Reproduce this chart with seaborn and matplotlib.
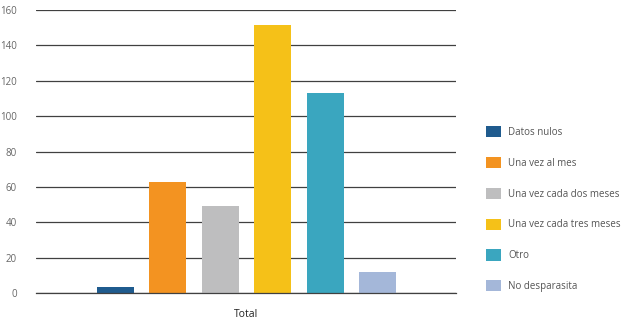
import pandas as pd
import seaborn as sns
import matplotlib.pyplot as plt

# datos
categorias = ["Datos nulos", "Una vez al mes", "Una vez cada dos meses",
              "Una vez cada tres meses", "Otro", "No desparasita"]
valores = [3.5, 63, 49.5, 151.5, 113, 12]
grupo = ["Total"] * len(categorias)
colores = ["#1f5b8e", "#f39321", "#bebebf", "#f5c118", "#3aa6bf", "#a4b7d9"]

df = pd.DataFrame({"grupo": grupo, "categoria": categorias, "valor": valores})

sns.set_theme(style="white")
plt.rcParams['font.family'] = ['Open Sans', 'DejaVu Sans']

fig = plt.figure(figsize=(6.27, 3.26), dpi=100)
ax = fig.add_axes([0.058, 0.10, 0.67, 0.87])

sns.barplot(data=df, x="grupo", y="valor", hue="categoria",
            palette=colores, saturation=1, width=0.75, gap=0.3,
            linewidth=0, ax=ax)

ax.set_ylim(0, 160)
ax.set_yticks(range(0, 161, 20))
ax.yaxis.grid(True, color="#404040", linewidth=0.9)
ax.set_axisbelow(True)
for s in ["top", "right", "left"]:
    ax.spines[s].set_visible(False)
ax.spines["bottom"].set_color("#404040")
ax.spines["bottom"].set_linewidth(0.9)
ax.tick_params(axis="y", labelsize=7, colors="#666666", length=0, pad=14)
ax.tick_params(axis="x", labelsize=7.5, colors="#222222", length=0, pad=11)
ax.set_xlabel("")
ax.set_ylabel("")

ax.legend(loc="center left", bbox_to_anchor=(1.05, 0.297), frameon=False,
          fontsize=7, labelcolor="#555555", handlelength=1.5, handleheight=1.4,
          labelspacing=1.95, handletextpad=0.75)

plt.savefig("out.png", dpi=100)
plt.close()
